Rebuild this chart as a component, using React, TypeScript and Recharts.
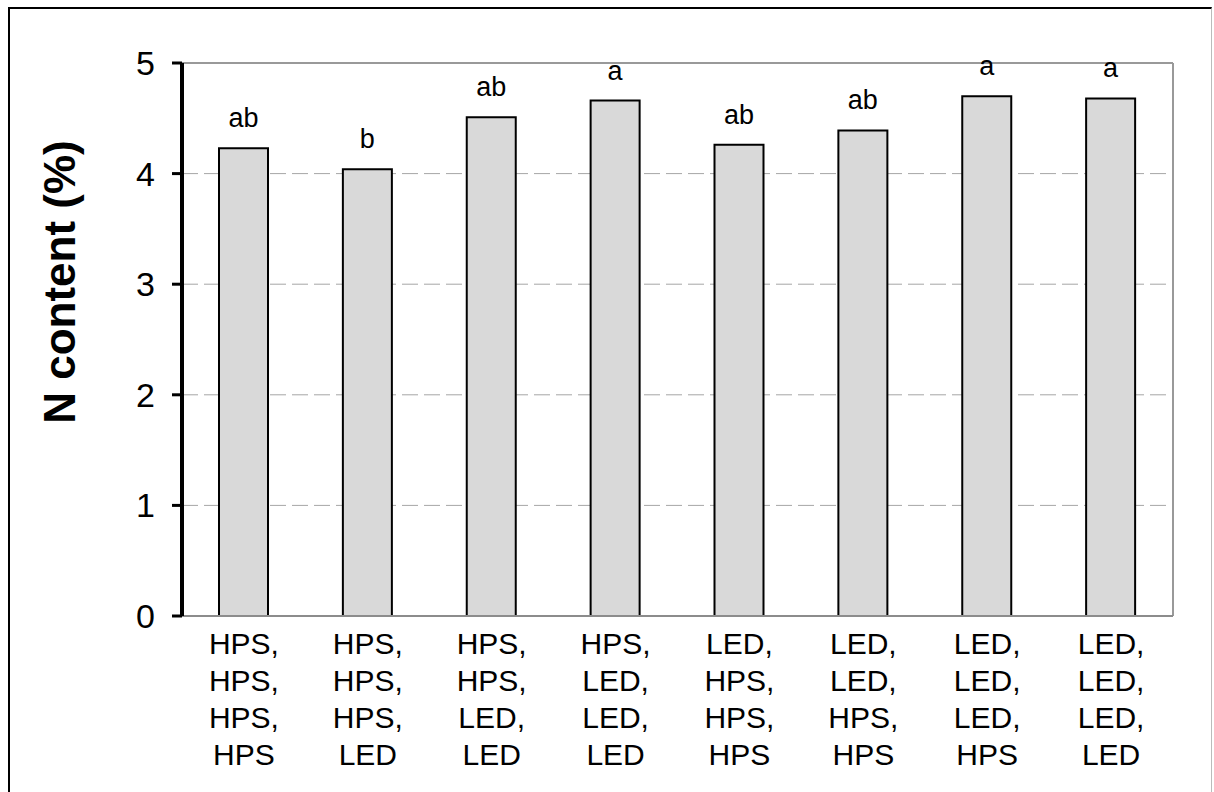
import { BarChart, Bar, XAxis, YAxis, CartesianGrid, LabelList, ReferenceLine } from "recharts";

const treatments = [
  "HPS, HPS, HPS, HPS",
  "HPS, HPS, HPS, LED",
  "HPS, HPS, LED, LED",
  "HPS, LED, LED, LED",
  "LED, HPS, HPS, HPS",
  "LED, LED, HPS, HPS",
  "LED, LED, LED, HPS",
  "LED, LED, LED, LED",
];
const nContent = [4.23, 4.04, 4.51, 4.66, 4.26, 4.39, 4.7, 4.68];
const letters = ["ab", "b", "ab", "a", "ab", "ab", "a", "a"];
const yTicks = [0, 1, 2, 3, 4, 5];

const data = treatments.map((t, i) => ({ treatment: t, n: nContent[i], letter: letters[i] }));

const font = "'Liberation Sans', Arial, sans-serif";

function TreatmentTick(props: any) {
  const { x, y, payload } = props;
  const parts = String(payload.value).split(", ");
  return (
    <g transform={`translate(${x},${y})`}>
      <text textAnchor="middle" fontFamily={font} fontSize={30} fill="#000">
        {parts.map((p, i) => (
          <tspan key={i} x={0} y={38 + i * 37}>
            {i < parts.length - 1 ? p + "," : p}
          </tspan>
        ))}
      </text>
    </g>
  );
}

function YTitle() {
  return (
    <text
      x={75}
      y={282}
      transform="rotate(-90, 75, 282)"
      textAnchor="middle"
      fontFamily={font}
      fontSize={44}
      fontWeight="bold"
      fill="#000"
    >
      N content (%)
    </text>
  );
}

export default function App() {
  return (
    <div style={{ position: "absolute", left: 0, top: 0, width: 1214, height: 792, background: "#fff" }}>
      <div
        style={{
          position: "absolute",
          left: 8,
          top: 7,
          width: 1204,
          height: 800,
          boxSizing: "border-box",
          borderTop: "2px solid #000",
          borderLeft: "2px solid #000",
          borderRight: "1px solid #bbb",
        }}
      />
      <div style={{ position: "absolute", left: 0, top: 0 }}>
        <BarChart width={1214} height={792} data={data} margin={{ top: 63, right: 41, bottom: 6, left: 102 }}>
          <CartesianGrid vertical={false} horizontalValues={[1, 2, 3, 4]} stroke="#a6a6a6" strokeDasharray="16 6" />
          <ReferenceLine y={5} stroke="#999" strokeWidth={2} />
          <ReferenceLine x={treatments[treatments.length - 1]} position="end" stroke="#999" strokeWidth={2} />
          <XAxis
            dataKey="treatment"
            height={170}
            tickSize={0}
            tickMargin={0}
            tickLine={false}
            axisLine={{ stroke: "#8c8c8c", strokeWidth: 2 }}
            tick={<TreatmentTick />}
            interval={0}
          />
          <YAxis
            domain={[0, 5]}
            ticks={yTicks}
            width={80}
            tickSize={10}
            tickMargin={17}
            axisLine={{ stroke: "#000", strokeWidth: 4 }}
            tickLine={{ stroke: "#000", strokeWidth: 3 }}
            tick={{ fontFamily: font, fontSize: 34, fill: "#000" }}
            label={<YTitle />}
          />
          <Bar dataKey="n" fill="#d9d9d9" stroke="#000" strokeWidth={2} barSize={49} isAnimationActive={false}>
            <LabelList dataKey="letter" position="top" offset={21} fontFamily={font} fontSize={27} fill="#000" />
          </Bar>
        </BarChart>
      </div>
    </div>
  );
}
